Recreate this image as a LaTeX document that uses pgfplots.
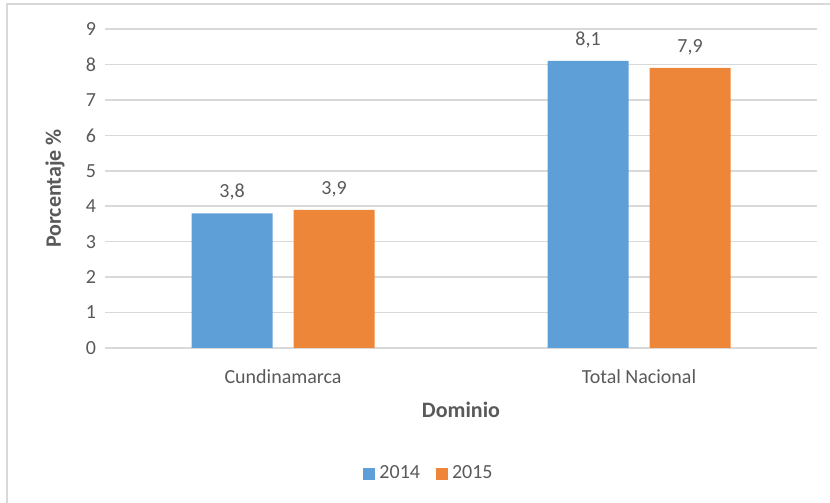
\documentclass[border=0pt]{standalone}
\usepackage{pgfplots}
\pgfplotsset{compat=1.18}
\usepackage{fontspec}
\setmainfont{Carlito}
\definecolor{cblue}{HTML}{5F9FD8}
\definecolor{corange}{HTML}{EE8639}
\definecolor{gridgray}{HTML}{D9D9D9}
\definecolor{txtgray}{HTML}{595959}
\begin{document}
\begin{tikzpicture}
\useasboundingbox (0,0) rectangle (415pt,251.5pt);
\draw[gridgray, line width=1pt] (3.5pt,-2pt) -- (3.5pt,249.5pt) -- (417pt,249.5pt);
\begin{axis}[
  at={(52.5pt,77.5pt)}, anchor=south west,
  scale only axis, width=356pt, height=159.5pt,
  xmin=-0.5, xmax=1.5, ymin=0, ymax=9,
  ytick={0,1,...,9},
  xtick={0,1}, xticklabels={Cundinamarca,Total Nacional},
  axis line style={draw=none},
  tick style={draw=none},
  ymajorgrids, grid style={gridgray, line width=0.8pt},
  ybar, bar width=40.5pt,
  font=\fontsize{10}{12}\selectfont,
  tick label style={text=txtgray, font=\fontsize{10}{12}\selectfont},
  yticklabel style={xshift=-1pt},
  xticklabel style={yshift=-3pt},
  /pgf/number format/assume math mode=true,
  ylabel={\textbf{Porcentaje \%}},
  ylabel style={text=txtgray, font=\fontsize{11}{13}\selectfont, at={(axis description cs:-0.0702,0.5)}, anchor=center},
  xlabel={\textbf{Dominio}},
  xlabel style={text=txtgray, font=\fontsize{11}{13}\selectfont, at={(axis description cs:0.5,-0.194)}, anchor=center},
  nodes near coords,
  nodes near coords style={text=txtgray, font=\fontsize{10}{12}\selectfont, yshift=3pt, /pgf/number format/fixed, /pgf/number format/fixed zerofill, /pgf/number format/precision=1, /pgf/number format/use comma, /pgf/number format/assume math mode=true},
  legend style={draw=none, fill=none, at={(axis description cs:0.4565,-0.395)}, anchor=center, legend columns=2, font=\fontsize{10}{12}\selectfont, text=txtgray, /tikz/every even column/.append style={column sep=6pt}},
  legend cell align=left,
  legend image code/.code={\draw[#1, draw=none] (-1.5pt,-3pt) rectangle (4.5pt,3pt);},
]
\addplot[fill=cblue, draw=none, bar shift=-25.5pt] coordinates {(0,3.8) (1,8.1)};
\addplot[fill=corange, draw=none, bar shift=25.5pt] coordinates {(0,3.9) (1,7.9)};
\legend{2014,2015}
\end{axis}
\end{tikzpicture}
\end{document}
